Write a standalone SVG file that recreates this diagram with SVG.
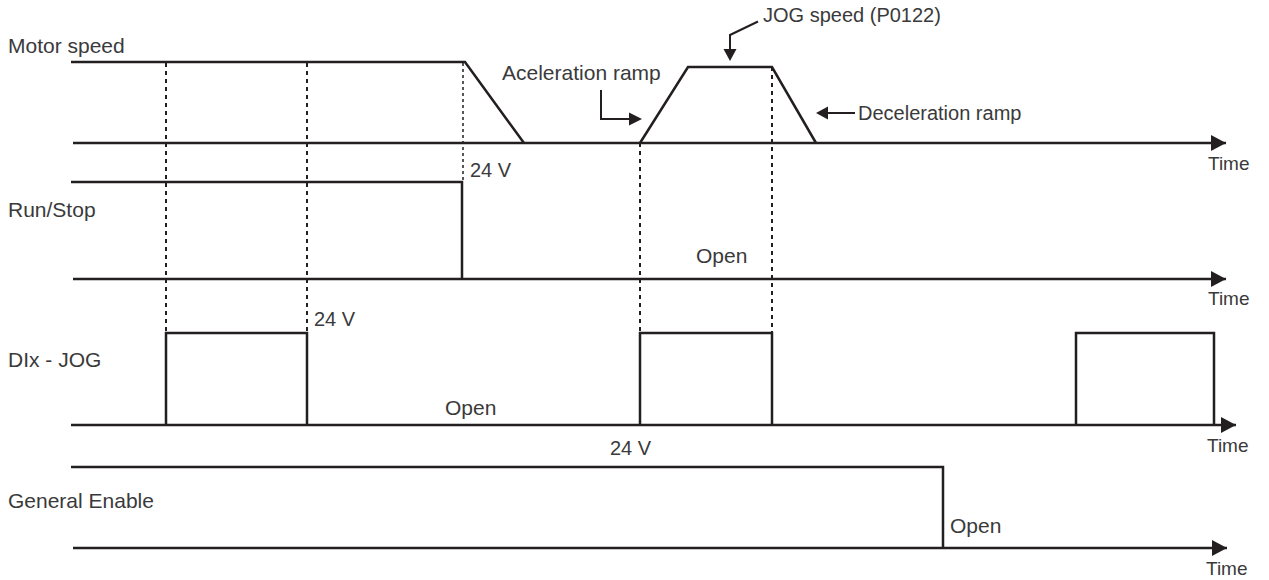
<svg xmlns="http://www.w3.org/2000/svg" width="1269" height="580" viewBox="0 0 1269 580">
  <style>
    .sig { fill: none; stroke: #231f20; stroke-width: 2.5; stroke-linejoin: miter; }
    .axis { fill: none; stroke: #231f20; stroke-width: 2.5; }
    .dash { fill: none; stroke: #231f20; stroke-width: 2; stroke-dasharray: 4 4; }
    .dashthin { fill: none; stroke: #231f20; stroke-width: 1.5; stroke-dasharray: 3 3; }
    .lead { fill: none; stroke: #231f20; stroke-width: 2; }
    .head { fill: #231f20; }
    text { font-family: "Liberation Sans", Arial, sans-serif; fill: #3a3a3a; }
    .lbl { font-size: 21px; }
    .sm { font-size: 20px; }
    .time { font-size: 19px; }
  </style>
  <defs>
    <marker id="arr" markerUnits="userSpaceOnUse" markerWidth="16" markerHeight="16" refX="15" refY="8" orient="auto">
      <path d="M0,0 L15,8 L0,16 Z" class="head"/>
    </marker>
  </defs>

  <g id="guides">
    <line class="dash" x1="166" y1="63" x2="166" y2="332"/>
    <line class="dash" x1="307" y1="63" x2="307" y2="332"/>
    <line class="dashthin" x1="463" y1="63" x2="463" y2="182"/>
    <line class="dash" x1="640" y1="143" x2="640" y2="332"/>
    <line class="dash" x1="772" y1="67" x2="772" y2="332"/>
  </g>

  <g id="motor-speed">
    <text class="lbl" x="8" y="53">Motor speed</text>
    <polyline class="sig" points="71,62 465,62 524,143"/>
    <polyline class="sig" points="640,143 688,67 772,67 816,143"/>
    <line class="axis" x1="73" y1="143" x2="1226" y2="143" marker-end="url(#arr)"/>
    <text class="time" x="1208" y="170">Time</text>
  </g>

  <g id="run-stop">
    <text class="sm" x="470" y="177">24 V</text>
    <text class="lbl" x="8" y="217">Run/Stop</text>
    <polyline class="sig" points="71,182 462,182 462,279"/>
    <line class="axis" x1="73" y1="279" x2="1226" y2="279" marker-end="url(#arr)"/>
    <text class="lbl" x="696" y="263">Open</text>
    <text class="time" x="1208" y="305">Time</text>
  </g>

  <g id="dix-jog">
    <text class="sm" x="314" y="326">24 V</text>
    <text class="lbl" x="8" y="367">DIx - JOG</text>
    <line class="axis" x1="71" y1="425" x2="1236" y2="425" marker-end="url(#arr)"/>
    <polyline class="sig" points="166,425 166,333 307,333 307,425"/>
    <polyline class="sig" points="640,425 640,333 772,333 772,425"/>
    <polyline class="sig" points="1076,425 1076,333 1214,333 1214,425"/>
    <text class="lbl" x="445" y="415">Open</text>
    <text class="time" x="1207" y="452">Time</text>
  </g>

  <g id="general-enable">
    <text class="sm" x="610" y="455">24 V</text>
    <text class="lbl" x="8" y="508">General Enable</text>
    <polyline class="sig" points="71,467 943,467 943,548"/>
    <line class="axis" x1="73" y1="548" x2="1227" y2="548" marker-end="url(#arr)"/>
    <text class="lbl" x="950" y="533">Open</text>
    <text class="time" x="1206" y="575">Time</text>
  </g>

  <g id="annotations">
    <text class="sm" x="763" y="22">JOG speed (P0122)</text>
    <polyline class="lead" points="758,21.5 730,35 730,50"/>
    <path class="head" d="M723.5,49 L736.5,49 L730,61 Z"/>
    <text class="lbl" x="502" y="80">Aceleration ramp</text>
    <polyline class="lead" points="601,90 601,119 630,119"/>
    <path class="head" d="M629,112.5 L642,119 L629,125.5 Z"/>
    <line class="lead" x1="827" y1="113" x2="855" y2="113"/>
    <path class="head" d="M828,106.5 L816,113 L828,119.5 Z"/>
    <text class="sm" x="858" y="120">Deceleration ramp</text>
  </g>
</svg>
